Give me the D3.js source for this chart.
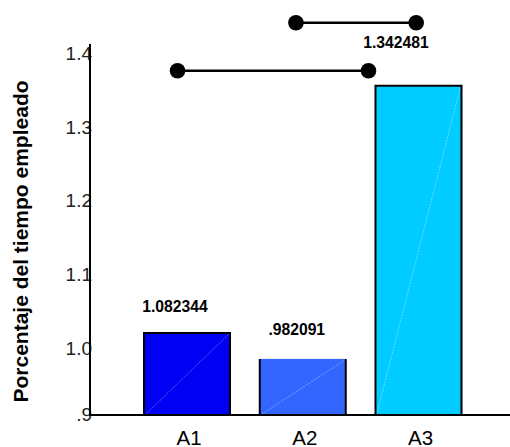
<!DOCTYPE html>
<html><head><meta charset="utf-8">
<script src="https://cdn.jsdelivr.net/npm/d3@7"></script>
<style>html,body{margin:0;padding:0;background:#fff;}svg{display:block;}</style>
</head><body>
<script>
// ---- data ----
const categories = ["A1", "A2", "A3"];
const barValues = [1.011, 0.976, 1.346];
const barLabels = ["1.082344", ".982091", "1.342481"];
const barColors = ["#0000f5", "#3366ff", "#00ccff"];
const yTickValues = [0.9, 1.0, 1.1, 1.2, 1.3, 1.4];
const yTickLabels = [".9", "1.0", "1.1", "1.2", "1.3", "1.4"];
const bracketFrom = [-0.082, 0.941];   // category index positions
const bracketTo = [1.568, 1.98];
const bracketLevel = [1.3665, 1.4316];
const yTitle = "Porcentaje del tiempo empleado";

// ---- layout ----
const W = 510, H = 447;
const font = "'Liberation Sans', Arial, sans-serif";
const svg = d3.select("body").append("svg").attr("width", W).attr("height", H);

const y = d3.scaleLinear().domain([0.9, 1.4]).range([415, 46]);
const x = d3.scaleBand().domain(categories).range([144, 461.5]).paddingInner(0.257).paddingOuter(0);
const xi = d3.scaleLinear().domain([0, 1]).range([x("A1") + x.bandwidth() / 2, x("A2") + x.bandwidth() / 2]);

// bars
const bars = svg.append("g");
categories.forEach((c, i) => {
  const x0 = x(c), x1 = x0 + x.bandwidth(), yt = y(barValues[i]), yb = y(0.9);
  bars.append("rect").attr("x", x0).attr("y", yt).attr("width", x.bandwidth()).attr("height", yb - yt)
    .attr("fill", barColors[i]);
  bars.append("line").attr("x1", x0 + 1).attr("y1", yb).attr("x2", x1 - 1).attr("y2", yt + 1)
    .attr("stroke", "rgba(255,255,255,0.35)").attr("stroke-width", 1).attr("stroke-dasharray", "2,1");
  const p = (i === 1)
    ? `M${x0},${yb}V${yt}M${x1},${yt}V${yb}`
    : `M${x0},${yb}V${yt}H${x1}V${yb}`;
  bars.append("path").attr("d", p).attr("fill", "none").attr("stroke", "#000").attr("stroke-width", 2);
});

// axes
const yAxis = d3.axisLeft(y).tickValues(yTickValues).tickSize(0).tickFormat((d, i) => yTickLabels[i]);
const ga = svg.append("g").attr("transform", "translate(90,0)").call(yAxis);
ga.select(".domain").remove();
ga.selectAll("text").attr("font-family", font).attr("font-size", 19).attr("fill", "#222")
  .attr("x", 2).attr("dy", (d) => d === 0.9 ? "0.3em" : "0.7em");
svg.append("line").attr("x1", 90).attr("x2", 90).attr("y1", 44).attr("y2", 416).attr("stroke", "#000").attr("stroke-width", 2);
svg.append("line").attr("x1", 89).attr("x2", W).attr("y1", y(0.9)).attr("y2", y(0.9)).attr("stroke", "#000").attr("stroke-width", 2);

const xAxis = d3.axisBottom(x).tickSize(0);
const gx = svg.append("g").attr("transform", `translate(2,${y(0.9)})`).call(xAxis);
gx.select(".domain").remove();
gx.selectAll("text").attr("font-family", font).attr("font-size", 20.5).attr("fill", "#000").attr("dy", 0).attr("y", 29.5);

// value labels
const labelDx = [-12, -6, -22.5];
const labelDy = [-21.5, -24, -38];
categories.forEach((c, i) => {
  svg.append("text").attr("x", x(c) + x.bandwidth() / 2 + labelDx[i]).attr("y", y(barValues[i]) + labelDy[i])
    .attr("text-anchor", "middle").attr("font-family", font).attr("font-size", 15.7).attr("font-weight", "bold")
    .text(barLabels[i]);
});

// brackets
bracketFrom.forEach((f, i) => {
  const g = svg.append("g");
  const yy = y(bracketLevel[i]);
  g.append("line").attr("x1", xi(f)).attr("x2", xi(bracketTo[i])).attr("y1", yy).attr("y2", yy)
    .attr("stroke", "#000").attr("stroke-width", 2.5);
  [f, bracketTo[i]].forEach(v => g.append("circle").attr("cx", xi(v)).attr("cy", yy).attr("r", 7.8).attr("fill", "#000"));
});

// y title
svg.append("text").attr("transform", "translate(28,241.5) rotate(-90)").attr("text-anchor", "middle")
  .attr("font-family", font).attr("font-size", 21).attr("font-weight", "bold").text(yTitle);
</script>
</body></html>
